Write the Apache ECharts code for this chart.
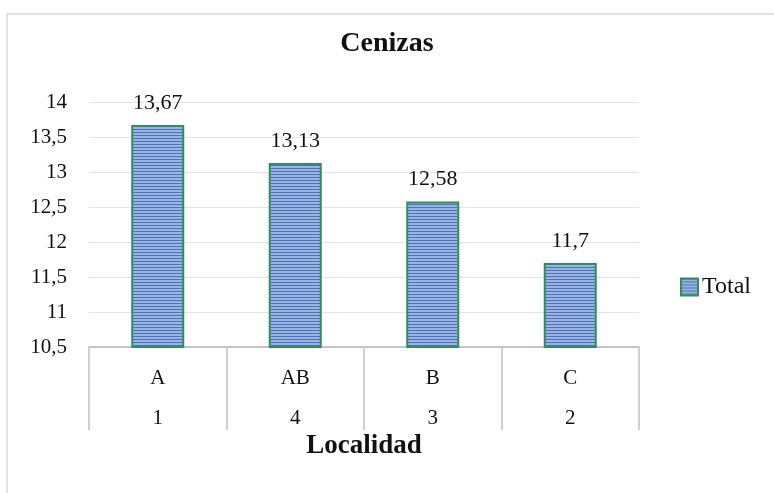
<!DOCTYPE html>
<html>
<head>
<meta charset="utf-8">
<title>Cenizas</title>
<script src="https://cdn.jsdelivr.net/npm/echarts@6/dist/echarts.min.js"></script>
<style>
  html, body { margin: 0; padding: 0; background: #ffffff; }
  #main { width: 774px; height: 493px; }
</style>
</head>
<body>
<div id="main"></div>
<script>
// datos del grafico
var letras = ['A', 'AB', 'B', 'C']
var localidades = ['1', '4', '3', '2']
var totales = [13.67, 13.13, 12.58, 11.7]
var yMin = 10.5
var yMax = 14
var yPaso = 0.5

var fuente = 'Liberation Serif'

// relleno a rayas horizontales como en la barra original
function rayas () {
  var c = document.createElement('canvas')
  c.width = 4
  c.height = 3
  var ctx = c.getContext('2d')
  ctx.fillStyle = '#98b4e3'
  ctx.fillRect(0, 0, 4, 3)
  ctx.fillStyle = '#4f72b8'
  ctx.fillRect(0, 0, 4, 1)
  return c
}

function coma (v) {
  return String(v).replace('.', ',')
}

var myChart = echarts.init(document.getElementById('main'))

var option = {
  backgroundColor: '#ffffff',
  animation: false,
  title: {
    text: 'Cenizas',
    left: 'center',
    top: 25,
    textStyle: {
      fontFamily: fuente,
      fontWeight: 'bold',
      fontSize: 28,
      color: '#111'
    }
  },
  legend: {
    data: ['Total'],
    orient: 'vertical',
    left: 680,
    top: 275,
    padding: 0,
    icon: 'rect',
    itemWidth: 17,
    itemHeight: 17,
    itemGap: 4,
    textStyle: {
      fontFamily: fuente,
      fontSize: 24,
      color: '#111',
      padding: [0, 0, 0, -1]
    }
  },
  grid: {
    left: 89,
    right: 135,
    top: 102,
    bottom: 146
  },
  xAxis: [
    {
      type: 'category',
      data: letras,
      position: 'bottom',
      axisLine: { lineStyle: { color: '#c4c4c4', width: 2 } },
      axisTick: {
        show: true,
        interval: 0,
        alignWithLabel: false,
        length: 83,
        lineStyle: { color: '#cfcfcf', width: 2 }
      },
      axisLabel: {
        margin: 21,
        fontFamily: fuente,
        fontSize: 21,
        color: '#111'
      }
    },
    {
      type: 'category',
      data: localidades,
      position: 'bottom',
      offset: 40,
      axisLine: { show: false },
      axisTick: { show: false },
      axisLabel: {
        margin: 21,
        fontFamily: fuente,
        fontSize: 21,
        color: '#111'
      },
      name: 'Localidad',
      nameLocation: 'middle',
      nameGap: 46,
      nameTextStyle: {
        fontFamily: fuente,
        fontWeight: 'bold',
        fontSize: 27,
        color: '#111'
      }
    }
  ],
  yAxis: {
    type: 'value',
    min: yMin,
    max: yMax,
    interval: yPaso,
    axisLine: { show: false },
    axisTick: { show: false },
    splitLine: { lineStyle: { color: '#e3e3e3', width: 1 } },
    axisLabel: {
      margin: 22,
      fontFamily: fuente,
      fontSize: 21,
      color: '#111',
      formatter: function (v) { return coma(v) }
    }
  },
  series: [
    {
      name: 'Total',
      type: 'bar',
      xAxisIndex: 0,
      data: totales,
      barWidth: 53,
      itemStyle: {
        color: { image: rayas(), repeat: 'repeat' },
        borderColor: '#2f8f55',
        borderWidth: 2
      },
      label: {
        show: true,
        position: 'top',
        distance: 11,
        fontFamily: fuente,
        fontSize: 22,
        color: '#111',
        formatter: function (p) { return coma(p.value) }
      }
    }
  ],
  // marco gris alrededor del grafico
  graphic: [
    {
      type: 'rect',
      shape: { x: 7, y: 14, width: 770, height: 485 },
      style: { fill: 'none', stroke: '#d9d9d9', lineWidth: 1.5 },
      silent: true
    }
  ]
}

myChart.setOption(option)
</script>
</body>
</html>
